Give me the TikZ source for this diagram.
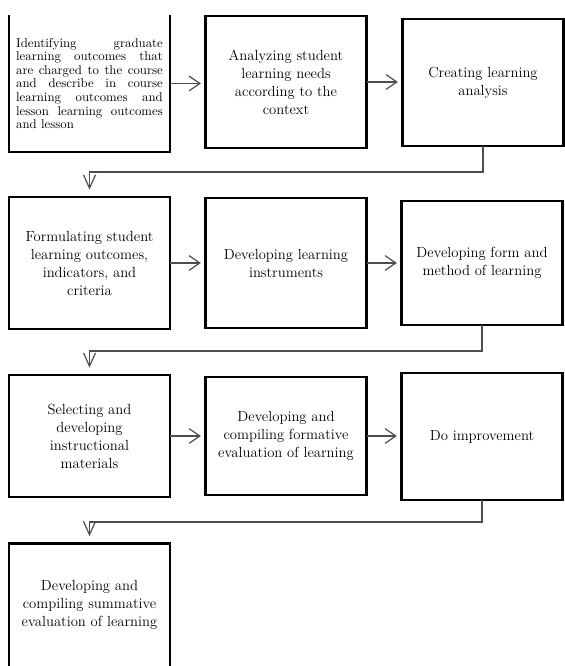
\documentclass[tikz,border=0pt]{standalone}
\usepackage{tikz}
\usetikzlibrary{arrows.meta, positioning}

\definecolor{linkgray}{HTML}{4D4D4D}

\tikzset{
	stage/.style={draw, line width=1.6pt, inner sep=0pt, outer sep=0pt,
		minimum width=120.75pt, align=center,
		font=\fontsize{11}{13.5}\selectfont},
	openstage/.style={stage, draw=none},
	flow/.style={draw=linkgray, line width=0.9pt,
		-{Straight Barb[length=8pt, width=11pt]}, shorten >=3.5pt},
	turn/.style={draw=linkgray, line width=0.9pt,
		-{Straight Barb[length=10pt, width=9pt]}, shorten >=5.5pt}
}

\begin{document}
\begin{tikzpicture}[x=0.75pt, y=-0.75pt]
	\useasboundingbox (0,0) rectangle (564,666);
	
	% first row
	\node[openstage, minimum height=102.75pt, text width=110pt, align=justify,
		font=\fontsize{9.6}{10.2}\selectfont] (b1) at (89.5,83.5)
		{Identifying graduate\linebreak learning outcomes that\linebreak are charged to the course\linebreak and describe in course\linebreak learning outcomes and\linebreak lesson learning outcomes\linebreak and lesson};
	\draw[line width=1.6pt] (b1.north west) -- (b1.south west) -- (b1.south east) -- (b1.north east);
	\node[stage, minimum height=99pt] (b2) at (286,82)
		{Analyzing student\\ learning needs\\ according to the\\ context};
	\node[stage, minimum height=95.25pt] (b3) at (483,82.5)
		{Creating learning\\ analysis};
	
	% second row
	\node[stage, minimum height=99pt] (b4) at (89.5,263)
		{Formulating student\\ learning outcomes,\\ indicators, and\\ criteria};
	\node[stage, minimum height=97.1pt] (b5) at (286,263)
		{Developing learning\\ instruments};
	\node[stage, minimum height=93pt] (b6) at (482,263)
		{Developing form and\\ method of learning};
	
	% third row
	\node[stage, minimum height=91.5pt] (b7) at (89.5,436)
		{Selecting and\\ developing\\ instructional\\ materials};
	\node[stage, minimum height=88.1pt] (b8) at (286,436)
		{Developing and\\ compiling formative\\ evaluation of learning};
	\node[stage, minimum height=95.25pt] (b9) at (482,436.5)
		{Do improvement};
	
	% last box, open at the bottom
	\node[openstage, minimum height=91.9pt] (b10) at (89.5,604.75)
		{Developing and\\ compiling summative\\ evaluation of learning};
	\draw[line width=1.6pt] (b10.south west) -- (b10.north west) -- (b10.north east) -- (b10.south east);
	
	% arrows in the rows
	\draw[flow] (b1.east) -- (b1.east -| b2.west);
	\draw[flow] (b2.east) -- (b2.east -| b3.west);
	\draw[flow] (b4.east) -- (b4.east -| b5.west);
	\draw[flow] (b5.east) -- (b5.east -| b6.west);
	\draw[flow] (b7.east) -- (b7.east -| b8.west);
	\draw[flow] (b8.east) -- (b8.east -| b9.west);
	
	% going down to the next row
	\draw[turn] (b3.south) -- ++(0,26) -| (b4.north);
	\draw[turn] (b6.south) -- ++(0,26) -| (b7.north);
	\draw[turn] (b9.south) -- ++(0,22) -| (b10.north);
\end{tikzpicture}
\end{document}
